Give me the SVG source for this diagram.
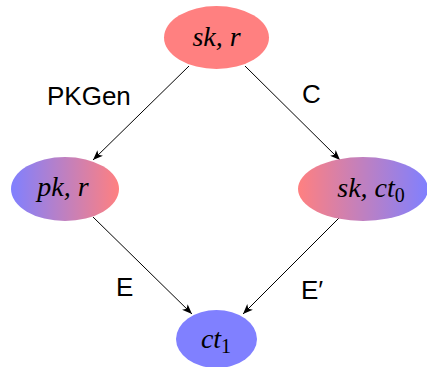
<svg xmlns="http://www.w3.org/2000/svg" width="427" height="367" viewBox="0 0 427 367">
<style>
.math{font-family:"Liberation Serif",serif;font-style:italic;font-size:28px;fill:#000;text-anchor:middle}
.sub{font-family:"Liberation Serif",serif;font-style:normal;font-size:20px}
.lbl{font-family:"Liberation Sans",Arial,sans-serif;font-size:26px;fill:#000}
.edge{stroke:#000;stroke-width:1;fill:none;marker-end:url(#arr)}
</style>
<defs>
<linearGradient id="br" x1="0" y1="0" x2="1" y2="0"><stop offset="0" stop-color="#8080ff"/><stop offset="1" stop-color="#ff8080"/></linearGradient>
<linearGradient id="rb" x1="0" y1="0" x2="1" y2="0"><stop offset="0" stop-color="#ff8080"/><stop offset="1" stop-color="#8080ff"/></linearGradient>
<marker id="arr" viewBox="0 0 10 10" refX="10" refY="5" markerWidth="10" markerHeight="10" markerUnits="userSpaceOnUse" orient="auto"><path d="M0,1 L10,5 L0,9 L2.5,5 Z" fill="#000"/></marker>
</defs>
<g id="connectors">
<line class="edge" x1="189" y1="66" x2="93" y2="160"/>
<line class="edge" x1="245" y1="66" x2="340" y2="160"/>
<line class="edge" x1="93" y1="217" x2="192" y2="314"/>
<line class="edge" x1="339" y1="218" x2="243" y2="314"/>
<text class="lbl" x="47" y="105">PKGen</text>
<text class="lbl" x="302" y="103">C</text>
<text class="lbl" x="116" y="296">E</text>
<text class="lbl" x="301" y="299">E′</text>
</g>
<g id="n_top">
<ellipse cx="216.5" cy="37.5" rx="52.5" ry="31.5" fill="#ff8080"/>
<text class="math" x="216.5" y="46">sk, r</text>
</g>
<g id="n_pk">
<ellipse cx="65" cy="189" rx="54" ry="32" fill="url(#br)"/>
<text class="math" x="63" y="196">pk, r</text>
</g>
<g id="n_skct0">
<ellipse cx="363" cy="189" rx="65" ry="32" fill="url(#rb)"/>
<text class="math" x="371" y="197">sk, ct<tspan class="sub" dy="5">0</tspan></text>
</g>
<g id="n_ct1">
<ellipse cx="216.5" cy="339" rx="40.5" ry="29" fill="#8080ff"/>
<text class="math" x="216" y="348">ct<tspan class="sub" dy="5">1</tspan></text>
</g>
</svg>
